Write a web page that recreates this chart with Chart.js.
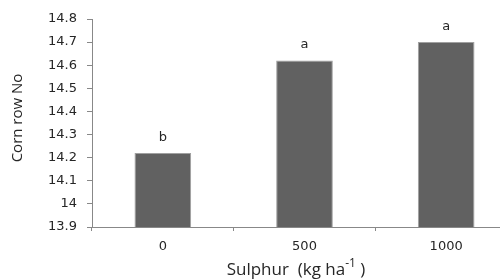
<!DOCTYPE html>
<html>
<head>
<meta charset="utf-8">
<script src="https://cdn.jsdelivr.net/npm/chart.js@4.4.1/dist/chart.umd.min.js"></script>
<style>
  html, body { margin: 0; padding: 0; background: #fff; overflow: hidden; }
  #wrap { width: 520px; height: 280px; }
</style>
</head>
<body>
<div id="wrap"><canvas id="chart" width="520" height="280"></canvas></div>
<script>
// Data
const categories = ['0', '500', '1000'];
const rowNumbers = [14.22, 14.62, 14.70];
const groupLetters = ['b', 'a', 'a'];
const yTicks = [13.9, 14, 14.1, 14.2, 14.3, 14.4, 14.5, 14.6, 14.7, 14.8];
const yTitle = 'Corn row No';
const xTitle = ['Sulphur  (kg ha', '-1', ' )'];

const axisColor = '#888888';
const textColor = '#262626';

// letters above bars + axis titles (x title needs a superscript)
const annotations = {
    id: 'annotations',
    afterDatasetsDraw(chart) {
        const ctx = chart.ctx;
        const meta = chart.getDatasetMeta(0);
        ctx.save();
        ctx.fillStyle = textColor;
        ctx.font = '13px "DejaVu Sans"';
        ctx.textAlign = 'center';
        ctx.textBaseline = 'bottom';
        meta.data.forEach((bar, i) => {
            ctx.fillText(groupLetters[i], bar.x, bar.y - 9);
        });

        // y title
        ctx.font = '15px "Open Sans"';
        ctx.textBaseline = 'middle';
        ctx.translate(18, 118);
        ctx.rotate(-Math.PI / 2);
        ctx.fillText(yTitle, 0, 0);
        ctx.restore();

        // x title with superscript
        ctx.save();
        ctx.fillStyle = textColor;
        ctx.textBaseline = 'alphabetic';
        ctx.textAlign = 'left';
        const main = '17px "Open Sans"', sup = '12px "Open Sans"';
        ctx.font = main;
        const w0 = ctx.measureText(xTitle[0]).width;
        const w2 = ctx.measureText(xTitle[2]).width;
        ctx.font = sup;
        const w1 = ctx.measureText(xTitle[1]).width;
        let x = 296 - (w0 + w1 + w2) / 2;
        const base = 275;
        ctx.font = main;
        ctx.fillText(xTitle[0], x, base);
        x += w0;
        ctx.font = sup;
        ctx.fillText(xTitle[1], x, base - 8);
        x += w1;
        ctx.font = main;
        ctx.fillText(xTitle[2], x, base);
        ctx.restore();
    }
};

new Chart(document.getElementById('chart'), {
    type: 'bar',
    data: {
        labels: categories,
        datasets: [{
            data: rowNumbers,
            backgroundColor: '#616161',
            borderColor: '#a0a0a0',
            borderWidth: 1,
            categoryPercentage: 0.8,
            barPercentage: 0.5
        }]
    },
    options: {
        responsive: false,
        animation: false,
        layout: { padding: { left: 0, top: 19, right: 3, bottom: 0 } },
        plugins: {
            legend: { display: false },
            tooltip: { enabled: false }
        },
        scales: {
            x: {
                afterFit: scale => { scale.height = 53; },
                grid: {
                    drawOnChartArea: false,
                    color: axisColor,
                    tickLength: 4,
                    offset: true
                },
                border: { color: axisColor },
                ticks: {
                    color: textColor,
                    font: { family: 'DejaVu Sans', size: 13 },
                    padding: 8
                }
            },
            y: {
                min: 13.9,
                max: 14.8,
                afterFit: scale => { scale.width = 92; },
                afterBuildTicks: scale => {
                    scale.ticks = yTicks.map(v => ({ value: v }));
                },
                grid: {
                    drawOnChartArea: false,
                    color: axisColor,
                    tickLength: 5
                },
                border: { color: axisColor },
                ticks: {
                    color: textColor,
                    font: { family: 'DejaVu Sans', size: 13 },
                    padding: 10,
                    callback: v => String(v)
                }
            }
        }
    },
    plugins: [annotations]
});
</script>
</body>
</html>
